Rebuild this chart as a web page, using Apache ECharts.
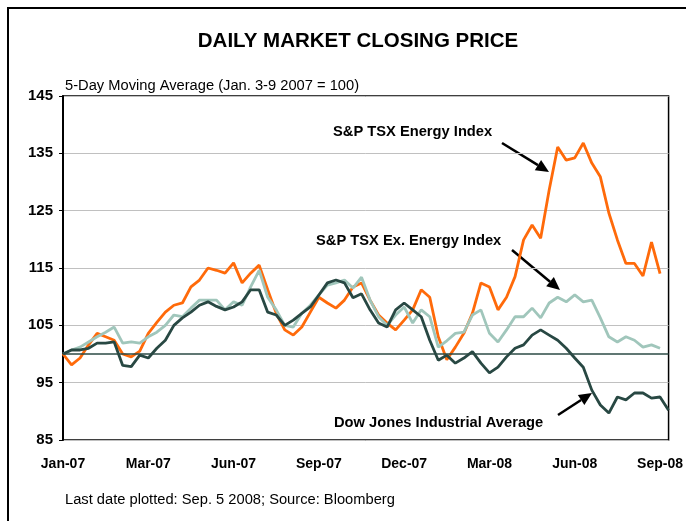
<!DOCTYPE html>
<html>
<head>
<meta charset="utf-8">
<script src="https://cdn.jsdelivr.net/npm/echarts@6/dist/echarts.min.js"></script>
<style>
  html, body { margin: 0; padding: 0; background: #fff; }
  #chart { width: 686px; height: 521px; }
</style>
</head>
<body>
<div id="chart"></div>
<script>
// x labels, one every 10 points
const xLabels = ['Jan-07', 'Mar-07', 'Jun-07', 'Sep-07', 'Dec-07', 'Mar-08', 'Jun-08', 'Sep-08']
const yTicks = [85, 95, 105, 115, 125, 135, 145]

// 5-day moving average, Jan 3-9 2007 = 100
const energy = [100, 98.1, 99.3, 101.6, 103.6, 103, 102.4, 100, 99.5, 100.5, 103.6, 105.5, 107.3, 108.5, 108.9, 111.7, 112.9, 115, 114.6, 114.1,
  115.9, 112.4, 114.1, 115.5, 111.2, 107.1, 104.2, 103.3, 104.7, 107.3, 109.9, 108.9, 108, 109.4, 111.7, 112.4, 109.4, 106.8, 105.4, 104.2,
  105.9, 107.7, 111.2, 109.9, 103, 99, 101.2, 103.6, 107.1, 112.4, 111.7, 107.7, 109.9, 113.5, 119.9, 122.5, 120.2, 128.6, 136.1, 133.8,
  134.2, 136.8, 133.3, 130.9, 124.6, 119.9, 115.8, 115.8, 113.6, 119.5, 114, null]
const exEnergy = [100, 100.7, 101.2, 102.1, 103, 103.8, 104.7, 101.9, 102.1, 101.9, 103, 103.8, 105, 106.8, 106.5, 108, 109.4, 109.4, 109.4, 107.7,
  109.1, 108.5, 111.7, 114.6, 109.9, 107.7, 105, 104.7, 107.1, 108.5, 110.3, 112, 112.4, 112.9, 111.5, 113.4, 109.4, 106.5, 105, 106.8,
  108.2, 105.4, 107.7, 106.5, 101.2, 102.3, 103.6, 103.8, 106.8, 107.7, 103.6, 102.1, 104.2, 106.5, 106.5, 108, 106.3, 108.9, 109.9, 109.1,
  110.3, 109.1, 109.4, 106.3, 103, 102.1, 103, 102.4, 101.2, 101.6, 101, null]
const dow = [100, 100.7, 100.7, 101, 101.9, 101.9, 102.1, 98, 97.8, 99.8, 99.3, 101, 102.4, 105, 106.3, 107.3, 108.5, 109.1, 108.3, 107.7,
  108.2, 109.1, 111.2, 111.2, 107.3, 106.8, 105, 105.9, 107.1, 108.2, 110.3, 112.4, 112.9, 112.4, 109.8, 110.5, 107.7, 105.4, 104.7, 107.7,
  108.9, 107.7, 106.5, 102.4, 98.9, 99.8, 98.4, 99.3, 100.4, 98.4, 96.7, 97.7, 99.5, 101, 101.6, 103.3, 104.2, 103.3, 102.4, 101,
  99.3, 97.7, 93.7, 91.1, 89.7, 92.5, 92, 93.2, 93.2, 92.3, 92.5, 90.2]

const font = 'Liberation Sans, Arial, sans-serif'
const toPairs = arr => arr.map((v, i) => [i, v])

// arrow = line + triangle head
const arrow = (x1, y1, x2, y2) => {
  const len = Math.hypot(x2 - x1, y2 - y1)
  const ux = (x2 - x1) / len, uy = (y2 - y1) / len
  const bx = x2 - ux * 13, by = y2 - uy * 13
  return [
    { type: 'line', shape: { x1, y1, x2: bx, y2: by }, style: { stroke: '#000', lineWidth: 2.5 } },
    {
      type: 'polygon',
      shape: { points: [[x2, y2], [bx - uy * 6, by + ux * 6], [bx + uy * 6, by - ux * 6]] },
      style: { fill: '#000' }
    }
  ]
}

const label = (text, x, y) => ({
  type: 'text', x, y,
  style: { text, font: 'bold 14.7px ' + font, fill: '#000', textVerticalAlign: 'middle' }
})

const chart = echarts.init(document.getElementById('chart'))

const lineSeries = (name, data, color) => ({
  name, type: 'line', data: toPairs(data),
  symbol: 'none', smooth: false,
  lineStyle: { color, width: 2.8 },
  z: 3
})

chart.setOption({
  animation: false,
  title: [
    {
      text: 'DAILY MARKET CLOSING PRICE', left: 353, top: 26, textAlign: 'center',
      textStyle: { fontFamily: font, fontWeight: 'bold', fontSize: 20.5, color: '#000' }
    },
    {
      text: '5-Day Moving Average (Jan. 3-9 2007 = 100)', left: 65, top: 78, padding: 0,
      textStyle: { fontFamily: font, fontWeight: 'normal', fontSize: 14.7, color: '#000' }
    },
    {
      text: 'Last date plotted: Sep. 5 2008; Source: Bloomberg', left: 65, top: 492, padding: 0,
      textStyle: { fontFamily: font, fontWeight: 'normal', fontSize: 14.7, color: '#000' }
    }
  ],
  grid: {
    left: 63, top: 96, right: 15, bottom: 81,
    show: true, borderColor: '#000', borderWidth: 1.5
  },
  xAxis: {
    type: 'value', min: 0, max: 71, interval: 10,
    axisLine: { show: false },
    axisTick: { show: false },
    splitLine: { show: false },
    axisLabel: {
      margin: 17,
      fontFamily: font, fontWeight: 'bold', fontSize: 14, color: '#000',
      formatter: v => xLabels[v / 10] || ''
    }
  },
  yAxis: {
    type: 'value', min: 85, max: 145,
    axisLine: { show: true, lineStyle: { color: '#000', width: 2 } },
    axisTick: { show: true, length: 4, customValues: yTicks, lineStyle: { color: '#000' } },
    splitLine: { show: true, lineStyle: { color: '#c0c0c0', width: 1 } },
    axisLabel: {
      customValues: yTicks, margin: 10,
      fontFamily: font, fontWeight: 'bold', fontSize: 15, color: '#000'
    }
  },
  series: [
    {
      ...lineSeries('S&P TSX Energy Index', energy, '#ff6a0a'),
      markLine: {
        silent: true, symbol: 'none', label: { show: false },
        lineStyle: { color: '#2b4a45', width: 1.5, type: 'solid' },
        data: [{ yAxis: 100 }]
      }
    },
    lineSeries('S&P TSX Ex. Energy Index', exEnergy, '#a0c6bb'),
    lineSeries('Dow Jones Industrial Average', dow, '#284843')
  ],
  graphic: [
    { type: 'rect', shape: { x: 8, y: 8, width: 720, height: 600 }, style: { fill: null, stroke: '#000', lineWidth: 2 }, silent: true },
    label('S&P TSX Energy Index', 333, 132),
    label('S&P TSX Ex. Energy Index', 316, 241),
    label('Dow Jones Industrial Average', 334, 423),
    ...arrow(502, 143, 549, 172),
    ...arrow(512, 250, 560, 290),
    ...arrow(558, 415, 592, 393)
  ]
})
</script>
</body>
</html>
